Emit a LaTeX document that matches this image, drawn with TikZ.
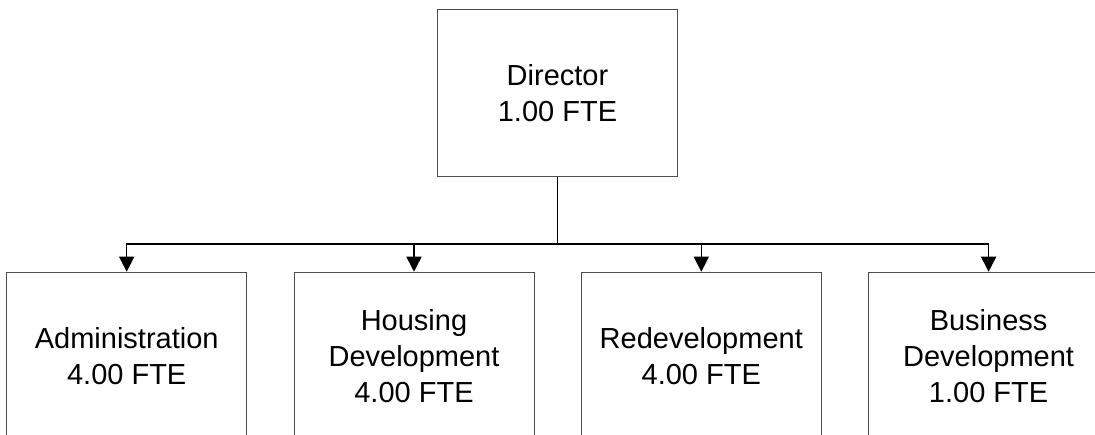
\documentclass[tikz,border=0pt]{standalone}
\usepackage{fontspec}
\setmainfont{Liberation Sans}
\usetikzlibrary{arrows.meta}
\begin{document}
\begin{tikzpicture}[x=1pt,y=1pt,
  orgbox/.style={draw=black!70, line width=1pt, minimum width=240pt, minimum height=167.5pt,
    inner sep=0pt, align=center, font=\fontsize{29}{36}\selectfont},
  link/.style={draw=black, line width=1.5pt},
  arrowlink/.style={link, -{Triangle[length=15pt,width=15pt]}}]
\useasboundingbox (0,0) rectangle (1095,-435);
\clip (0,0) rectangle (1095,-435);
\fill[white] (0,0) rectangle (1095,-435);
\node[orgbox] (dir) at (557.5,-93) {Director\\1.00 FTE};
\node[orgbox] (adm) at (126.7,-356) {Administration\\4.00 FTE};
\node[orgbox] (hou) at (414,-356) {Housing\\Development\\4.00 FTE};
\node[orgbox] (red) at (701.3,-356) {Redevelopment\\4.00 FTE};
\node[orgbox] (bus) at (988.6,-356) {Business\\Development\\1.00 FTE};
\coordinate (bar) at (557.5,-244);
\draw[link] (dir.south) -- (bar);
\foreach \c in {adm,hou,red,bus}{
  \draw[arrowlink] (bar) -| (\c.north);
}
\end{tikzpicture}
\end{document}
